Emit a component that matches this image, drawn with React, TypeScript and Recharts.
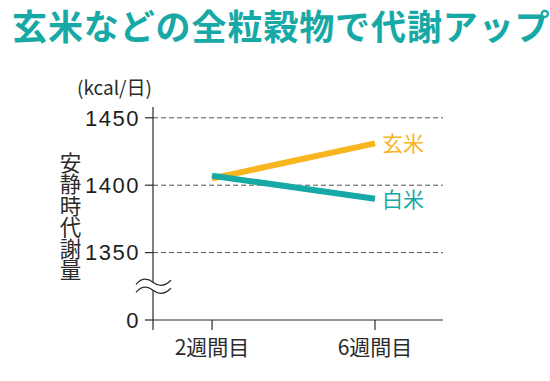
import { LineChart, Line, XAxis, YAxis, CartesianGrid, ReferenceDot } from "recharts";

const weeks = [2, 6];
const genmai = [1405, 1431];
const hakumai = [1407, 1390];
const yTicks = [1300, 1350, 1400, 1450];
const xTicks = [2, 6];

const TEAL = "#17a9a6";
const ORANGE = "#f8b51d";
const INK = "#2b2b2b";
const FONT = "'Noto Sans CJK JP', 'Noto Sans', sans-serif";

const X_MIN = 0.55;
const X_MAX = 7.67;
const Y_MIN = 1300;
const Y_MAX = 1458;

const data = weeks.map((w, i) => ({ week: w, genmai: genmai[i], hakumai: hakumai[i] }));

const seriesLabel = (text: string, color: string) => (props: any) => {
    if (props.index !== weeks.length - 1) return null;
    return (
        <text x={props.x + 7} y={props.y - 1} dominantBaseline="central" fill={color} fontSize={21} fontFamily={FONT}>
            {text}
        </text>
    );
};

// wavy break mark on the y axis
const BreakMark = (props: any) => {
    const { cx, cy } = props;
    return (
        <g>
            <rect x={cx - 3} y={cy - 4} width={6} height={8} fill="#fff" />
            <path d={`M ${cx - 17} ${cy - 2} C ${cx - 11} ${cy - 9}, ${cx - 5} ${cy - 8}, ${cx} ${cy - 4} S ${cx + 11} ${cy + 1}, ${cx + 18} ${cy - 6}`} fill="none" stroke={INK} strokeWidth={1.2} />
            <path d={`M ${cx - 17} ${cy + 6} C ${cx - 11} ${cy - 1}, ${cx - 5} ${cy}, ${cx} ${cy + 4} S ${cx + 11} ${cy + 9}, ${cx + 18} ${cy + 2}`} fill="none" stroke={INK} strokeWidth={1.2} />
        </g>
    );
};

const AxisStub = (props: any) => {
    const { cx, cy } = props;
    return <line x1={cx} y1={cy} x2={cx} y2={cy + 10} stroke={INK} strokeWidth={1.2} />;
};

export default function App() {
    return (
        <div style={{ position: "absolute", left: 0, top: 0, width: 550, height: 381, background: "#fff", fontFamily: FONT }}>
            <div style={{ position: "absolute", left: 12, top: 7, fontSize: 35, lineHeight: "36px", fontWeight: 700, color: TEAL, whiteSpace: "nowrap", letterSpacing: 0.9 }}>
                玄米などの全粒穀物で代謝アップ
            </div>
            <div style={{ position: "absolute", left: 77, top: 77, fontSize: 19, lineHeight: "20px", color: INK, whiteSpace: "nowrap" }}>
                (kcal/日)
            </div>
            <div style={{ position: "absolute", left: 59, top: 152, fontSize: 21.5, lineHeight: "22px", color: INK, writingMode: "vertical-rl" }}>
                安静時代謝量
            </div>
            <LineChart width={550} height={381} data={data} margin={{ top: 107, right: 107, bottom: 0, left: 0 }} style={{ position: "absolute", left: 0, top: 0 }}>
                <CartesianGrid vertical={false} horizontalValues={[1350, 1400, 1450]} stroke="#555" strokeDasharray="5 3" />
                <XAxis
                    type="number"
                    dataKey="week"
                    domain={[X_MIN, X_MAX]}
                    ticks={xTicks}
                    allowDataOverflow
                    tickFormatter={(v) => `${v}週間目`}
                    tickSize={10}
                    tickMargin={10}
                    height={61}
                    axisLine={{ stroke: INK, strokeWidth: 1.2 }}
                    tickLine={{ stroke: INK, strokeWidth: 1.2 }}
                    tick={{ fill: INK, fontSize: 21, fontFamily: FONT }}
                />
                <YAxis
                    type="number"
                    domain={[Y_MIN, Y_MAX]}
                    ticks={yTicks}
                    allowDataOverflow
                    tickFormatter={(v) => (v === 1300 ? "0" : String(v))}
                    width={153}
                    tickSize={8}
                    tickMargin={5}
                    axisLine={{ stroke: INK, strokeWidth: 1.2 }}
                    tickLine={{ stroke: INK, strokeWidth: 1.2 }}
                    tick={{ fill: "#1e1e1e", fontSize: 22, fontFamily: "'Liberation Sans', Arial, sans-serif", letterSpacing: 1.5 }}
                />
                <ReferenceDot x={X_MIN} y={1325} ifOverflow="visible" shape={BreakMark} />
                <ReferenceDot x={X_MIN} y={Y_MIN} ifOverflow="visible" shape={AxisStub} />
                <Line dataKey="genmai" stroke={ORANGE} strokeWidth={6} dot={false} activeDot={false} isAnimationActive={false} label={seriesLabel("玄米", ORANGE)} />
                <Line dataKey="hakumai" stroke={TEAL} strokeWidth={6} dot={false} activeDot={false} isAnimationActive={false} label={seriesLabel("白米", TEAL)} />
            </LineChart>
        </div>
    );
}
